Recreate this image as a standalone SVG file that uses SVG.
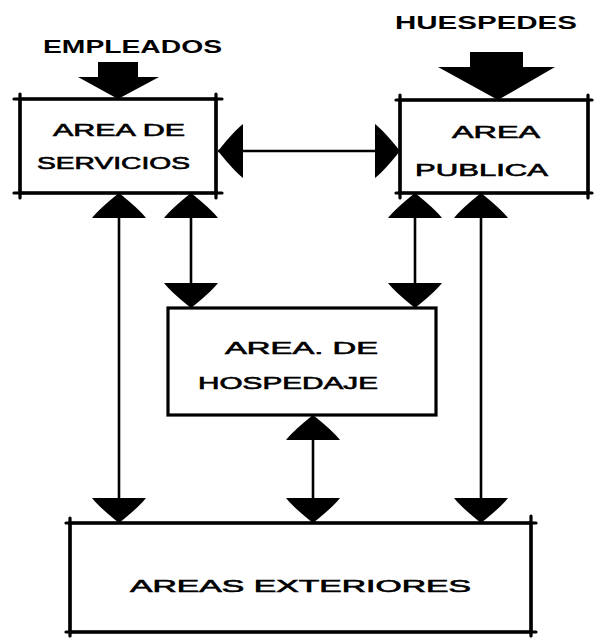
<svg xmlns="http://www.w3.org/2000/svg" width="594" height="638" viewBox="0 0 594 638">
<style>
.box{fill:#fff;stroke:#000;stroke-width:3.2;stroke-linecap:round}
.tick{stroke:#000;stroke-width:3.2;stroke-linecap:round}
.lbl{font-family:"Liberation Sans","DejaVu Sans",sans-serif;font-size:17px;fill:#000;stroke:#000;stroke-width:0.6}
.big{font-family:"Liberation Sans","DejaVu Sans",sans-serif;font-weight:bold;fill:#000}
.con{stroke:#000;stroke-width:2.6;fill:none;marker-start:url(#ah);marker-end:url(#ah)}
</style>
<defs>
<marker id="ah" markerUnits="userSpaceOnUse" viewBox="0 -28 25 56" markerWidth="25" markerHeight="56" refX="25" refY="0" orient="auto-start-reverse">
<path d="M0,-27 Q9,-20 25,0 Q9,20 0,27 Z" fill="#000"/>
</marker>
</defs>
<rect width="594" height="638" fill="#fff"/>

<g id="connectors">
<line class="con" x1="218" y1="151" x2="400" y2="151"/>
<line class="con" x1="119" y1="193" x2="119" y2="523"/>
<line class="con" x1="191" y1="193" x2="191" y2="308"/>
<line class="con" x1="415" y1="193" x2="415" y2="308"/>
<line class="con" x1="481" y1="193" x2="481" y2="523"/>
<line class="con" x1="313" y1="415" x2="313" y2="523"/>
<polygon points="98,62 138,62 138,77 159,77 118,99 78,77 98,77" fill="#000"/>
<polygon points="470,52 523,52 523,67 555,67 498,100 438,67 470,67" fill="#000"/>
</g>

<g id="empleados">
<text class="big" x="43" y="53" font-size="19" textLength="179" lengthAdjust="spacingAndGlyphs">EMPLEADOS</text>
</g>
<g id="huespedes">
<text class="big" x="395" y="29" font-size="18" textLength="182" lengthAdjust="spacingAndGlyphs">HUESPEDES</text>
</g>

<g id="area-servicios">
<rect class="box" x="20" y="99" width="196" height="94"/>
<path class="tick" d="M14,99 H222 M14,193 H222 M20,94 V198 M216,94 V198" fill="none"/>
<text class="lbl" x="53" y="136" textLength="132" lengthAdjust="spacingAndGlyphs">AREA DE</text>
<text class="lbl" x="37" y="169" textLength="153" lengthAdjust="spacingAndGlyphs">SERVICIOS</text>
</g>

<g id="area-publica">
<rect class="box" x="400" y="100" width="188" height="93"/>
<path class="tick" d="M396,100 H592 M396,193 H592 M400,95 V198 M588,95 V198" fill="none"/>
<text class="lbl" x="452" y="138" textLength="88" lengthAdjust="spacingAndGlyphs">AREA</text>
<text class="lbl" x="415" y="176" textLength="133" lengthAdjust="spacingAndGlyphs">PUBLICA</text>
</g>

<g id="area-hospedaje">
<rect class="box" x="168" y="308" width="268" height="107"/>
<text class="lbl" x="225" y="354" font-size="19" textLength="153" lengthAdjust="spacingAndGlyphs">AREA. DE</text>
<text class="lbl" x="198" y="389" font-size="19" textLength="180" lengthAdjust="spacingAndGlyphs">HOSPEDAJE</text>
</g>

<g id="areas-exteriores">
<rect class="box" x="70" y="523" width="461" height="109"/>
<path class="tick" d="M66,523 H536 M66,632 H536 M70,518 V636 M531,516 V636" fill="none"/>
<text class="lbl" x="130" y="592" font-size="22" textLength="341" lengthAdjust="spacingAndGlyphs">AREAS EXTERIORES</text>
</g>
</svg>
